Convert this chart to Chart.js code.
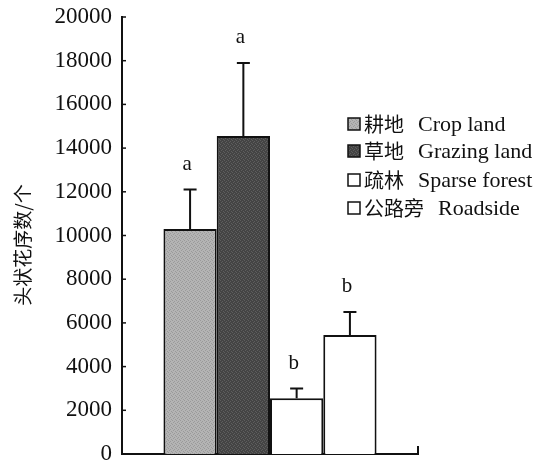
<!DOCTYPE html>
<html>
<head>
<meta charset="utf-8">
<script src="https://cdn.jsdelivr.net/npm/chart.js@4.4.1/dist/chart.umd.min.js"></script>
<style>
html,body{margin:0;padding:0;background:#fff;}
#wrap{width:541px;height:466px;position:relative;}
</style>
</head>
<body>
<div id="wrap"><canvas id="c" width="541" height="466"></canvas></div>
<script>
// ---- data ----
const cnNames = ['耕地', '草地', '疏林', '公路旁'];
const enNames = ['Crop land', 'Grazing land', 'Sparse forest', 'Roadside'];
const means = [10300, 14550, 2550, 5450];
const errUp = [1800, 3350, 450, 1050];
const letters = ['a', 'a', 'b', 'b'];
const yTicks = [0, 2000, 4000, 6000, 8000, 10000, 12000, 14000, 16000, 18000, 20000];
const yTitle = '头状花序数/个';

const serif = "'Liberation Serif','DejaVu Serif',serif";
const cjk = "'Noto Sans CJK SC','Noto Sans',sans-serif";

// fixed halftone-like texture tiles (style only)
function makePattern(base, alt) {
  const c = document.createElement('canvas');
  c.width = 4; c.height = 4;
  const g = c.getContext('2d');
  g.fillStyle = base; g.fillRect(0, 0, 4, 4);
  g.fillStyle = alt;
  [[0,0],[2,1],[1,2],[3,3]].forEach(p => g.fillRect(p[0], p[1], 1, 1));
  return g.createPattern(c, 'repeat');
}
const fills = [
  makePattern('#b4b4b4', '#9a9a9a'),
  makePattern('#444444', '#5e5e5e'),
  '#ffffff',
  '#ffffff'
];

const datasets = means.map((v, i) => ({
  label: cnNames[i] + ' ' + enNames[i],
  data: [v],
  backgroundColor: fills[i],
  borderColor: '#111',
  borderWidth: 2,
  borderSkipped: 'bottom',
  barPercentage: 1.0,
  categoryPercentage: 0.72
}));

const extras = {
  id: 'extras',
  afterDatasetsDraw(chart) {
    const ctx = chart.ctx;
    const y = chart.scales.y;
    const area = chart.chartArea;
    ctx.save();
    chart.data.datasets.forEach((ds, i) => {
      const bar = chart.getDatasetMeta(i).data[0];
      const x = bar.x;
      const top = y.getPixelForValue(means[i]);
      const capY = y.getPixelForValue(means[i] + errUp[i]);
      ctx.strokeStyle = '#111';
      ctx.lineWidth = 2;
      ctx.beginPath();
      ctx.moveTo(x, top);
      ctx.lineTo(x, capY);
      ctx.moveTo(x - 6.5, capY);
      ctx.lineTo(x + 6.5, capY);
      ctx.stroke();
      ctx.fillStyle = '#111';
      ctx.font = '21px ' + serif;
      ctx.textAlign = 'center';
      ctx.textBaseline = 'middle';
      ctx.fillText(letters[i], x - 3, capY - 25);
    });
    ctx.lineWidth = 1.5;
    yTicks.forEach(t => {
      const py = y.getPixelForValue(t);
      ctx.beginPath();
      ctx.moveTo(area.left, py);
      ctx.lineTo(area.left + 4, py);
      ctx.stroke();
    });
    ctx.lineWidth = 2;
    ctx.beginPath();
    ctx.moveTo(area.right, area.bottom);
    ctx.lineTo(area.right, area.bottom - 8);
    ctx.stroke();
    ctx.save();
    ctx.translate(23, 245);
    ctx.rotate(-Math.PI / 2);
    ctx.font = '19px ' + cjk;
    ctx.textAlign = 'center';
    ctx.textBaseline = 'middle';
    ctx.fillStyle = '#111';
    ctx.fillText(yTitle, 0, 0);
    ctx.restore();
    const rows = [124, 151, 180, 208];
    chart.data.datasets.forEach((ds, i) => {
      const ry = rows[i];
      ctx.fillStyle = ds.backgroundColor;
      ctx.fillRect(348, ry - 6, 12, 12);
      ctx.strokeStyle = '#111';
      ctx.lineWidth = 1.5;
      ctx.strokeRect(348, ry - 6, 12, 12);
      ctx.fillStyle = '#111';
      ctx.textAlign = 'left';
      ctx.textBaseline = 'middle';
      ctx.font = '20px ' + cjk;
      ctx.fillText(cnNames[i], 364, ry);
      const w = ctx.measureText(cnNames[i]).width;
      ctx.font = '22px ' + serif;
      ctx.fillText(enNames[i], 364 + w + 14, ry + 1);
    });
    ctx.restore();
  }
};

new Chart(document.getElementById('c'), {
  type: 'bar',
  data: { labels: [''], datasets },
  options: {
    responsive: false,
    animation: false,
    devicePixelRatio: 1,
    layout: { padding: { left: 0, right: 123, top: 17, bottom: 12 } },
    plugins: { legend: { display: false }, tooltip: { enabled: false } },
    scales: {
      x: {
        grid: { display: false, drawTicks: false },
        ticks: { display: false },
        border: { display: true, color: '#111', width: 2 }
      },
      y: {
        min: 0, max: 20000,
        afterBuildTicks(scale) { scale.ticks = yTicks.map(v => ({ value: v })); },
        afterFit(scale) { scale.width = 122; scale.paddingTop = 0; scale.paddingBottom = 0; },
        grid: { display: false, drawTicks: false },
        border: { display: true, color: '#111', width: 2 },
        ticks: {
          color: '#111',
          padding: 10,
          font: { family: serif, size: 23 },
          callback: v => String(v)
        }
      }
    }
  },
  plugins: [extras]
});
</script>
</body>
</html>
